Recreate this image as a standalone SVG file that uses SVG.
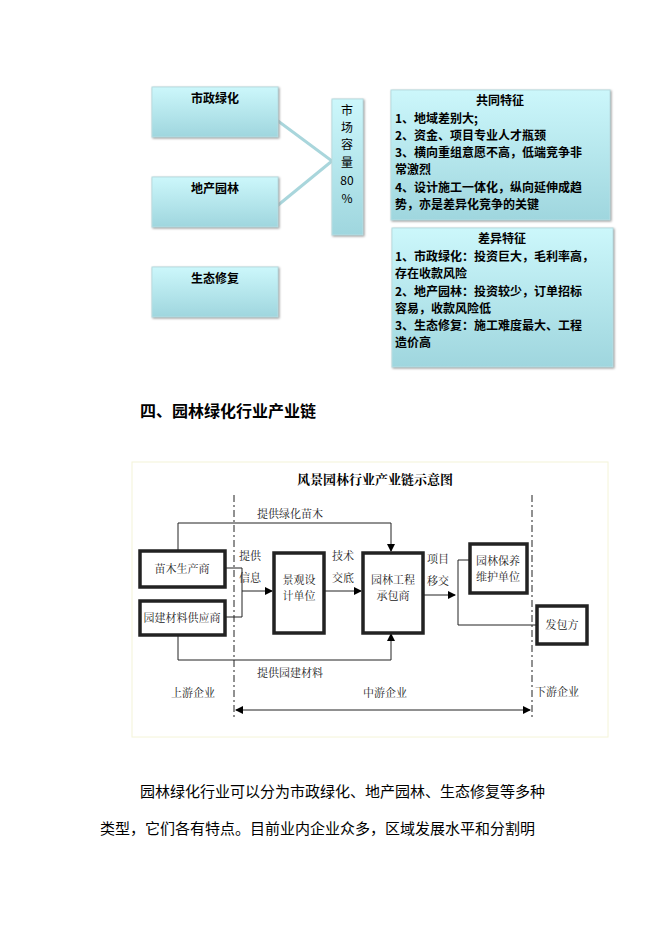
<svg xmlns="http://www.w3.org/2000/svg" width="662" height="936" viewBox="0 0 662 936">
<defs>
<linearGradient id="g" x1="0" y1="0" x2="0" y2="1"><stop offset="0" stop-color="#ccf7fb"/><stop offset="1" stop-color="#9fd6de"/></linearGradient>
<marker id="a" markerWidth="8" markerHeight="8" refX="7" refY="4" orient="auto" markerUnits="userSpaceOnUse"><path d="M0,0L8,4L0,8z" fill="#000"/></marker>
<marker id="as" markerWidth="8" markerHeight="8" refX="1" refY="4" orient="auto" markerUnits="userSpaceOnUse"><path d="M8,0L0,4L8,8z" fill="#000"/></marker>
</defs>
<style>
.b{fill:url(#g);stroke:#b8dde2;stroke-width:1;filter:drop-shadow(1px 1px 1px #999)}
.t{font-family:"Noto Sans CJK SC","Liberation Sans",sans-serif;font-size:12px;font-weight:bold;fill:#000}
.s{font-family:"Noto Serif CJK SC","Noto Sans CJK SC",serif;font-size:11px;fill:#222}
.n{fill:#fff;stroke:#222;stroke-width:3.5}
.l{fill:none;stroke:#222;stroke-width:1}
.p{font-family:"Noto Sans CJK SC",sans-serif;font-size:15px;fill:#000}
</style>
<rect width="662" height="936" fill="#fff"/>
<g id="top-connectors" stroke="#a9d6dc" stroke-width="3" fill="none">
<path d="M274,118L332,161L277,206"/>
</g>
<g id="n1"><rect class="b" x="152" y="87" width="126" height="50"/><text class="t" x="215" y="103" text-anchor="middle">市政绿化</text></g>
<g id="n2"><rect class="b" x="152" y="177" width="126" height="50"/><text class="t" x="215" y="193" text-anchor="middle">地产园林</text></g>
<g id="n3"><rect class="b" x="152" y="267" width="126" height="50"/><text class="t" x="215" y="283" text-anchor="middle">生态修复</text></g>
<g id="n4"><rect class="b" x="332" y="99" width="31" height="136"/>
<g font-family="Noto Sans CJK SC,sans-serif" font-size="12" text-anchor="middle"><text x="347" y="115">市</text><text x="347" y="132">场</text><text x="347" y="149">容</text><text x="347" y="167">量</text><text x="347" y="185">80</text><text x="347" y="203">%</text></g></g>
<g id="n5"><rect class="b" x="391" y="90" width="219" height="130"/>
<text class="t" x="500" y="105" text-anchor="middle">共同特征</text>
<text class="t" x="395" y="123">1、地域差别大;</text>
<text class="t" x="395" y="140">2、资金、项目专业人才瓶颈</text>
<text class="t" x="395" y="157">3、横向重组意愿不高，低端竞争非</text>
<text class="t" x="395" y="174">常激烈</text>
<text class="t" x="395" y="192">4、设计施工一体化，纵向延伸成趋</text>
<text class="t" x="395" y="209">势，亦是差异化竞争的关键</text></g>
<g id="n6"><rect class="b" x="392" y="228" width="221" height="139"/>
<text class="t" x="502" y="243" text-anchor="middle">差异特征</text>
<text class="t" x="395" y="261">1、市政绿化：投资巨大，毛利率高，</text>
<text class="t" x="395" y="278">存在收款风险</text>
<text class="t" x="395" y="296">2、地产园林：投资较少，订单招标</text>
<text class="t" x="395" y="313">容易，收款风险低</text>
<text class="t" x="395" y="330">3、生态修复：施工难度最大、工程</text>
<text class="t" x="395" y="347">造价高</text></g>
<text x="140" y="417" font-family="Noto Sans CJK SC,sans-serif" font-size="16" font-weight="bold">四、园林绿化行业产业链</text>
<rect x="132" y="462" width="476" height="275" fill="#fff" stroke="#f4f4d8"/>
<text x="375" y="484" font-family="Noto Serif CJK SC,Noto Sans CJK SC,serif" font-size="13" font-weight="bold" text-anchor="middle">风景园林行业产业链示意图</text>
<g id="connectors">
<path class="l" stroke-dasharray="7,3,2,3" d="M234,495V720M532,495V720"/>
<path class="l" d="M178,550V523H391V551" marker-end="url(#a)"/>
<path class="l" d="M178,635V660H391V634" marker-end="url(#a)"/>
<path class="l" d="M225,568H242V617H225M242,591H272" marker-end="url(#a)"/>
<path class="l" d="M324,591H361" marker-end="url(#a)"/>
<path class="l" d="M423,595H455" marker-end="url(#a)"/>
<path class="l" d="M469,560H458V625H536"/>
<path class="l" d="M236,710H530" marker-start="url(#as)" marker-end="url(#a)"/>
</g>
<g id="m1"><rect class="n" x="140" y="551" width="85" height="36"/><text class="s" x="182" y="573" text-anchor="middle">苗木生产商</text></g>
<g id="m2"><rect class="n" x="140" y="601" width="85" height="34"/><text class="s" x="182" y="622" text-anchor="middle">园建材料供应商</text></g>
<g id="m3"><rect class="n" x="274" y="553" width="50" height="80"/><text class="s" x="299" y="584" text-anchor="middle">景观设</text><text class="s" x="299" y="600" text-anchor="middle">计单位</text></g>
<g id="m4"><rect class="n" x="363" y="553" width="60" height="80"/><text class="s" x="393" y="584" text-anchor="middle">园林工程</text><text class="s" x="393" y="600" text-anchor="middle">承包商</text></g>
<g id="m5"><rect class="n" x="470" y="544" width="57" height="49"/><text class="s" x="498" y="565" text-anchor="middle">园林保养</text><text class="s" x="498" y="581" text-anchor="middle">维护单位</text></g>
<g id="m6"><rect class="n" x="537" y="606" width="50" height="38"/><text class="s" x="562" y="629" text-anchor="middle">发包方</text></g>
<g class="s" text-anchor="middle">
<text x="290" y="518">提供绿化苗木</text><text x="290" y="677">提供园建材料</text>
<text x="250" y="560">提供</text><text x="250" y="582">信息</text>
<text x="343" y="560">技术</text><text x="343" y="582">交底</text>
<text x="438" y="563">项目</text><text x="438" y="585">移交</text>
<text x="193" y="697">上游企业</text><text x="385" y="697">中游企业</text><text x="557" y="696">下游企业</text>
</g>
<text class="p" x="140" y="797">园林绿化行业可以分为市政绿化、地产园林、生态修复等多种</text>
<text class="p" x="100" y="834">类型，它们各有特点。目前业内企业众多，区域发展水平和分割明</text>
</svg>
